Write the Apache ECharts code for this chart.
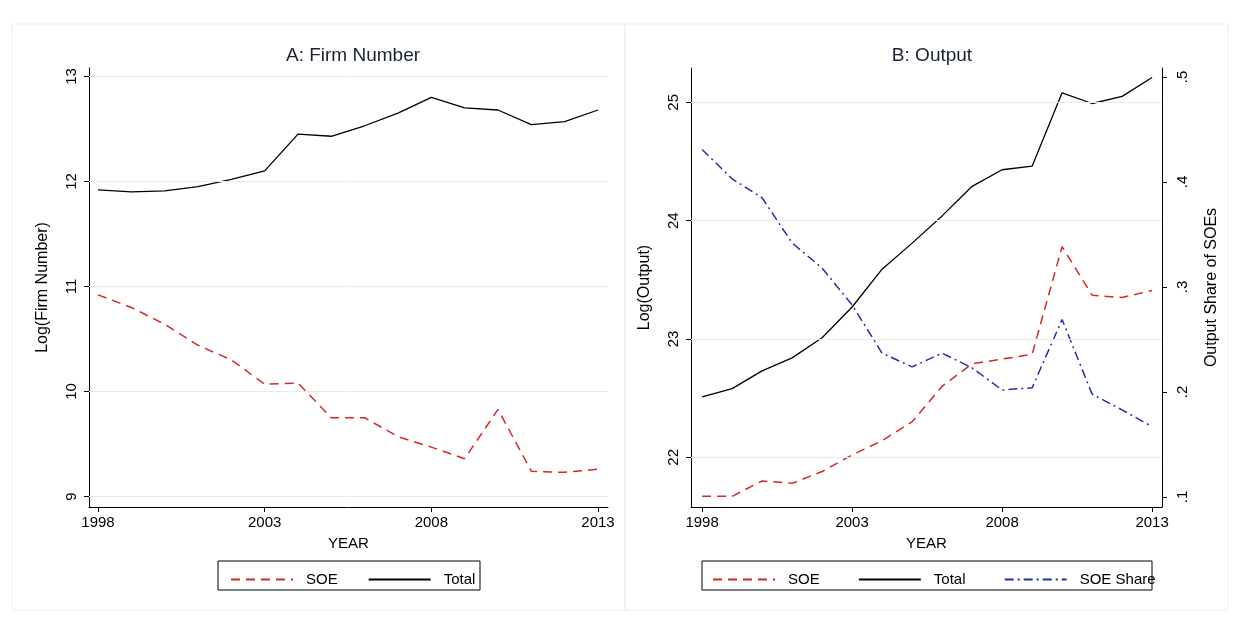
<!DOCTYPE html>
<html><head><meta charset="utf-8">
<script src="https://cdn.jsdelivr.net/npm/echarts@6/dist/echarts.min.js"></script>
<style>html,body{margin:0;background:#fff}#c{width:1238px;height:621px}</style>
</head><body><div id="c"></div>
<script>
var years = [1998,1999,2000,2001,2002,2003,2004,2005,2006,2007,2008,2009,2010,2011,2012,2013];
var firmTotal = [11.92,11.90,11.91,11.95,12.02,12.10,12.45,12.43,12.53,12.65,12.80,12.70,12.68,12.54,12.57,12.68];
var firmSOE = [10.92,10.80,10.64,10.44,10.30,10.07,10.08,9.75,9.75,9.57,9.47,9.36,9.83,9.24,9.23,9.26];
var outTotal = [22.51,22.58,22.73,22.84,23.01,23.27,23.59,23.81,24.04,24.29,24.43,24.46,25.08,24.99,25.05,25.21];
var outSOE = [21.67,21.67,21.80,21.78,21.88,22.02,22.14,22.30,22.60,22.79,22.83,22.87,23.78,23.37,23.35,23.41];
var soeShare = [.431,.403,.385,.342,.318,.283,.237,.224,.237,.223,.202,.204,.269,.198,.183,.167];
var yearTicks = [1998,2003,2008,2013];
var firmTicks = [9,10,11,12,13];
var outTicks = [22,23,24,25];
var shareTicks = [.1,.2,.3,.4,.5];

function pairs(v){ return years.map(function(y,i){ return [y,v[i]]; }); }
var font = 'Arial, "Liberation Sans", sans-serif';
function xAx(idx,min,max){
  return {type:'value', gridIndex:idx, min:min, max:max,
    name:'YEAR', nameLocation:'middle', nameGap:29, nameTextStyle:{fontFamily:font,fontSize:15,color:'#000'},
    axisLine:{onZero:false,lineStyle:{color:'#000'}},
    axisTick:{length:5,customValues:yearTicks,lineStyle:{color:'#000'}},
    axisLabel:{fontFamily:font,fontSize:15,color:'#000',customValues:yearTicks,formatter:function(v){return String(v);}},
    splitLine:{show:false}};
}
function yAx(idx,min,max,ticks,name,pos,fmt){
  return {type:'value', gridIndex:idx, min:min, max:max, position:pos,
    name:name, nameLocation:'middle', nameGap:pos==='left'?38:42, nameRotate:90,
    nameTextStyle:{fontFamily:font,fontSize:16,color:'#000'},
    axisLine:{show:true,lineStyle:{color:'#000'}},
    axisTick:{show:true,length:5,customValues:ticks,lineStyle:{color:'#000'}},
    axisLabel:{fontFamily:font,fontSize:15,color:'#000',rotate:90,margin:pos==='left'?10:13,customValues:ticks,formatter:fmt},
    splitLine:{show:false}};
}
var shareFmt = function(v){ return String(Math.round(v*10)/10).replace(/^0/,''); };
var intFmt = function(v){ return String(Math.round(v)); };
function gridLines(xi, yi, ticks){
  return {type:'line', xAxisIndex:xi, yAxisIndex:yi, silent:true, data:[], symbol:'none',
    markLine:{silent:true,symbol:'none',label:{show:false},lineStyle:{color:'#eaeaea',type:'solid',width:1},
      data:ticks.map(function(t){return {yAxis:t};})}};
}
var legendBase = {itemGap:30, itemWidth:62, itemHeight:14, itemStyle:{opacity:0},
  textStyle:{fontFamily:font,fontSize:15,color:'#000',padding:[0,0,0,8]}};
var chart = echarts.init(document.getElementById('c'));
chart.setOption({
  animation:false,
  title:[
    {text:'A: Firm Number', left:348, top:41, textAlign:'center', textStyle:{fontFamily:font,fontSize:19,fontWeight:'normal',color:'#1a2233'}},
    {text:'B: Output', left:927, top:41, textAlign:'center', textStyle:{fontFamily:font,fontSize:19,fontWeight:'normal',color:'#1a2233'}}
  ],
  graphic:[
    {type:'rect',shape:{x:12,y:24,width:613,height:586},style:{fill:'none',stroke:'#eeeeee'}},
    {type:'rect',shape:{x:625,y:24,width:603,height:586},style:{fill:'none',stroke:'#eeeeee'}},
    {type:'rect',shape:{x:218,y:561,width:262,height:29},style:{fill:'none',stroke:'#000',lineWidth:1}},
    {type:'rect',shape:{x:702,y:561,width:450,height:29},style:{fill:'none',stroke:'#000',lineWidth:1}}
  ],
  legend:[
    Object.assign({data:['SOE','Total'], left:225, top:567}, legendBase),
    Object.assign({data:['SOE ','Total ','SOE Share'], left:707, top:567}, legendBase, {itemGap:34})
  ],
  grid:[
    {left:89, right:1238-608, top:68, bottom:621-507},
    {left:691, right:1238-1162, top:68, bottom:621-507}
  ],
  xAxis:[xAx(0,1997.73,2013.3), xAx(1,1997.63,2013.33)],
  yAxis:[
    yAx(0,8.9,13.08,firmTicks,'Log(Firm Number)','left',intFmt),
    yAx(1,21.58,25.29,outTicks,'Log(Output)','left',intFmt),
    yAx(1,0.0905,0.5086,shareTicks,'Output Share of SOEs','right',shareFmt)
  ],
  series:[
    gridLines(0, 0, firmTicks),
    gridLines(1, 1, outTicks),
    {name:'SOE',type:'line',xAxisIndex:0,yAxisIndex:0,data:pairs(firmSOE),symbol:'none',color:'#d62728',
     lineStyle:{color:'#d62728',width:1.5,type:[9,6]}},
    {name:'Total',type:'line',xAxisIndex:0,yAxisIndex:0,data:pairs(firmTotal),symbol:'none',color:'#000',
     lineStyle:{color:'#000',width:1.3}},
    {name:'SOE ',type:'line',xAxisIndex:1,yAxisIndex:1,data:pairs(outSOE),symbol:'none',color:'#d62728',
     lineStyle:{color:'#d62728',width:1.5,type:[9,6]}},
    {name:'Total ',type:'line',xAxisIndex:1,yAxisIndex:1,data:pairs(outTotal),symbol:'none',color:'#000',
     lineStyle:{color:'#000',width:1.3}},
    {name:'SOE Share',type:'line',xAxisIndex:1,yAxisIndex:2,data:pairs(soeShare),symbol:'none',color:'#1f2fb4',
     lineStyle:{color:'#1f2fb4',width:1.5,type:[9,4,2,4]}}
  ]
});
</script></body></html>
